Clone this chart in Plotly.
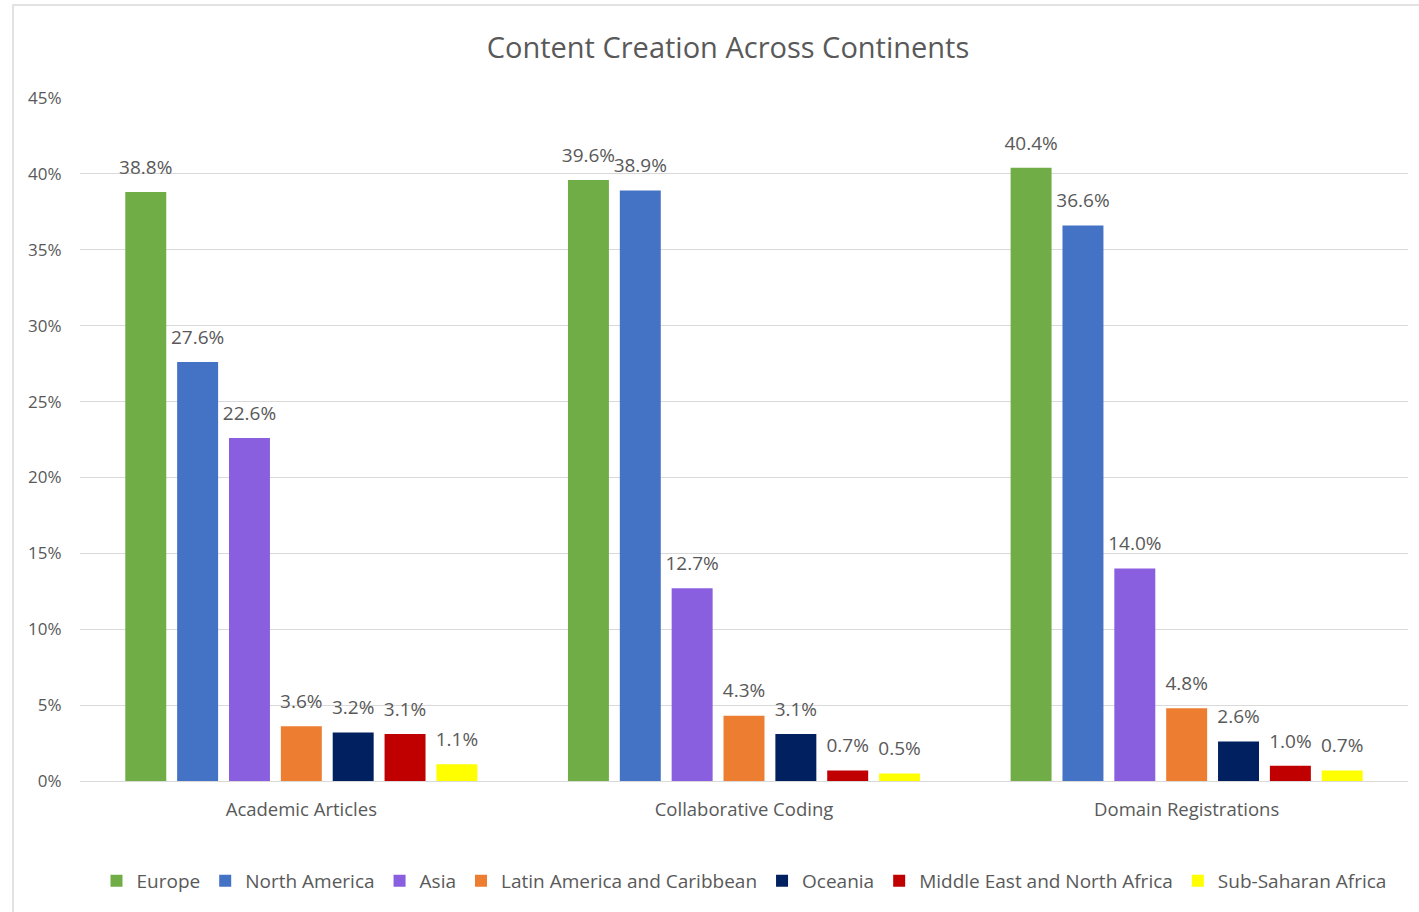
import plotly.graph_objects as go

categories = ["Academic Articles", "Collaborative Coding", "Domain Registrations"]
series_names = ["Europe", "North America", "Asia", "Latin America and Caribbean",
                "Oceania", "Middle East and North Africa", "Sub-Saharan Africa"]
europe = [38.8, 39.6, 40.4]
north_america = [27.6, 38.9, 36.6]
asia = [22.6, 12.7, 14.0]
latin_america = [3.6, 4.3, 4.8]
oceania = [3.2, 3.1, 2.6]
mena = [3.1, 0.7, 1.0]
ssa = [1.1, 0.5, 0.7]
colors = ["#70AD47", "#4472C4", "#8A5FDF", "#ED7D31", "#002060", "#C00000", "#FFFF00"]
y_ticks = [0, 5, 10, 15, 20, 25, 30, 35, 40, 45]
y_tick_labels = ["0%", "5%", "10%", "15%", "20%", "25%", "30%", "35%", "40%", "45%"]

values = [europe, north_america, asia, latin_america, oceania, mena, ssa]
font_family = "Open Sans, Noto Sans, sans-serif"
grey = "#595959"
BARGAP = 0.18

fig = go.Figure()
for name, vals, col in zip(series_names, values, colors):
    fig.add_trace(go.Bar(
        x=categories, y=vals, name=name,
        marker=dict(color=col, line=dict(width=0)),
        hoverinfo="skip",
    ))
# value labels, grouped like the bars
for name, vals in zip(series_names, values):
    fig.add_trace(go.Scatter(
        x=categories, y=vals, mode="markers+text", showlegend=False,
        text=[f"{v:.1f}%" for v in vals], textposition="top center",
        marker=dict(size=20, color="rgba(0,0,0,0)"),
        textfont=dict(size=19, color=grey, family=font_family),
        cliponaxis=False, hoverinfo="skip",
    ))

# plot area: left 80, right 1408, top 98, bottom 781
L, R, T, B = 80, 1408, 98, 781
W, H = R - L, B - T

def px(x):
    return (x - L) / W

def py(y):
    return (B - y) / H

fig.add_shape(type="rect", xref="paper", yref="paper",
              x0=px(13), x1=px(1430), y0=py(935), y1=py(5),
              line=dict(color="#d9d9d9", width=1.5), fillcolor="rgba(0,0,0,0)", layer="below")

fig.update_layout(
    width=1419, height=912,
    margin=dict(l=L, r=1419 - R, t=T, b=912 - B, autoexpand=False),
    paper_bgcolor="white", plot_bgcolor="white",
    barmode="group", bargap=BARGAP, bargroupgap=0.21,
    scattermode="group", scattergap=BARGAP,
    title=dict(text="Content Creation Across Continents", x=728 / 1419, xanchor="center",
               xref="container", y=1 - 48 / 912, yanchor="middle",
               font=dict(size=29, color=grey, family=font_family)),
    font=dict(family=font_family, color=grey),
    legend=dict(orientation="h", x=0.5, xanchor="center",
                y=py(881), yanchor="middle",
                font=dict(size=19, color=grey, family=font_family),
                itemsizing="constant", tracegroupgap=0, bgcolor="rgba(0,0,0,0)"),
    showlegend=True,
)
fig.update_yaxes(range=[0, 45], tickmode="array", tickvals=y_ticks, ticktext=y_tick_labels,
                 showgrid=True, gridcolor="#d9d9d9", gridwidth=1.2,
                 zeroline=True, zerolinecolor="#d9d9d9", zerolinewidth=1.2,
                 showline=False, ticks="outside", ticklen=14, tickcolor="rgba(0,0,0,0)",
                 tickfont=dict(size=17, color=grey, family=font_family))
fig.update_xaxes(showgrid=False, showline=False, ticks="outside", ticklen=12,
                 tickcolor="rgba(0,0,0,0)", tickangle=0,
                 tickfont=dict(size=18.5, color=grey, family=font_family))

fig.write_html("out.html", config={"displayModeBar": False},
               post_script="document.body.style.margin='0';")
